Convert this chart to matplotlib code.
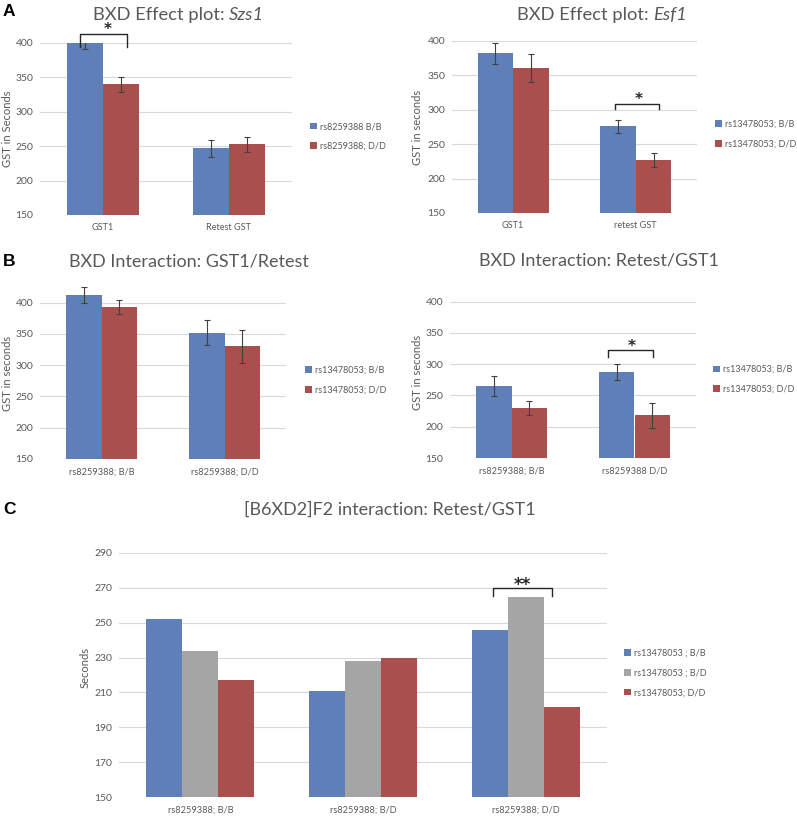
import matplotlib
matplotlib.use("Agg")
import matplotlib.pyplot as plt
import numpy as np

plt.rcParams['font.family'] = ['Lato', 'DejaVu Sans']

# ---- data ----
a1_cats = ['GST1', 'Retest GST']
a1_bb = [400, 247]
a1_bb_err = [9, 12]
a1_dd = [340, 253]
a1_dd_err = [11, 11]

a2_cats = ['GST1', 'retest GST']
a2_bb = [382, 276]
a2_bb_err = [15, 9]
a2_dd = [361, 227]
a2_dd_err = [20, 10]

b1_cats = ['rs8259388; B/B', 'rs8259388; D/D']
b1_bb = [412, 352]
b1_bb_err = [13, 20]
b1_dd = [393, 330]
b1_dd_err = [11, 26]

b2_cats = ['rs8259388; B/B', 'rs8259388 D/D']
b2_bb = [265, 288]
b2_bb_err = [16, 13]
b2_dd = [230, 218]
b2_dd_err = [11, 20]

c_cats = ['rs8259388; B/B', 'rs8259388; B/D', 'rs8259388; D/D']
c_bb = [252, 211, 245.5]
c_bd = [233.5, 228, 264.5]
c_dd = [217, 230, 201.5]

BLUE = '#5F7FB9'
RED = '#A94F4E'
GRAY = '#A5A5A5'
TXT = '#595959'
GRID = '#D9D9D9'

W, H = 797, 817
fig = plt.figure(figsize=(W / 100, H / 100), dpi=100)
renderer = fig.canvas.get_renderer()


def px_axes(x0, x1, ytop, ybot):
    return fig.add_axes([x0 / W, 1 - ybot / H, (x1 - x0) / W, (ybot - ytop) / H])


def bars(ax, cats, series, colors, labels, errs, width, ylim, yticks):
    n = len(series)
    x = np.arange(len(cats))
    for i, (vals, col, lab) in enumerate(zip(series, colors, labels)):
        pos = x + (i - (n - 1) / 2) * width
        ax.bar(pos, vals, width=width, color=col, label=lab, zorder=2)
        if errs is not None:
            ax.errorbar(pos, vals, yerr=errs[i], fmt='none', ecolor='#404040',
                        elinewidth=0.8, capsize=2.2, capthick=0.8, zorder=3)
    ax.set_xlim(-0.5, len(cats) - 0.5)
    ax.set_ylim(*ylim)
    ax.set_yticks(yticks)
    ax.set_xticks(x)
    ax.set_xticklabels(cats)
    for s in ax.spines.values():
        s.set_visible(False)
    ax.grid(axis='y', color=GRID, linewidth=0.8, zorder=0)
    ax.set_axisbelow(True)
    ax.tick_params(length=0, labelsize=7.5, labelcolor=TXT, pad=5)
    ax.tick_params(axis='x', labelsize=6.6, pad=6)


def legend(ax, x, y):
    ax.legend(loc='center left', bbox_to_anchor=(x / W, 1 - y / H),
              bbox_transform=fig.transFigure, frameon=False, fontsize=6.5,
              handlelength=0.75, handleheight=0.75, handletextpad=0.35,
              labelspacing=1.2, borderpad=0, borderaxespad=0, labelcolor=TXT)


def bracket(ax, x0, x1, ytop, ybot, star, sx, sy, size=11):
    ax.plot([x0, x0, x1, x1], [ybot, ytop, ytop, ybot], color='#262626', lw=1.0,
            clip_on=False, zorder=5)
    ax.text(sx, sy, star, ha='center', va='center', fontsize=size,
            fontweight='bold', color='#262626', clip_on=False,
            family='DejaVu Sans')


def ftext(x, y, s, **kw):
    fig.text(x / W, 1 - y / H, s, ha='center', va='center', **kw)


def mixed_title(xc, y, plain, ital, size):
    # plain part followed by an italic gene name, centred as a whole
    t1 = fig.text(0, 1 - y / H, plain, ha='left', va='center', fontsize=size, color=TXT)
    t2 = fig.text(0, 1 - y / H, ital, ha='left', va='center', fontsize=size,
                  color=TXT, style='italic')
    w1 = t1.get_window_extent(renderer).width
    w2 = t2.get_window_extent(renderer).width
    sp = fig.text(0, 0, 'a a', fontsize=size).get_window_extent(renderer).width
    sp2 = fig.text(0, 0, 'aa', fontsize=size).get_window_extent(renderer).width
    for t in fig.texts[-2:]:
        t.remove()
    gap = sp - sp2
    start = xc - (w1 + gap + w2) / 2
    t1.set_x(start / W)
    t2.set_x((start + w1 + gap) / W)


# ---- panel A left ----
ax1 = px_axes(40, 292, 43, 215)
bars(ax1, a1_cats, [a1_bb, a1_dd], [BLUE, RED], ['rs8259388 B/B', 'rs8259388; D/D'],
     [a1_bb_err, a1_dd_err], 0.285, (150, 400), [150, 200, 250, 300, 350, 400])
bracket(ax1, -0.18, 0.19, 413, 394, '*', 0.04, 419)
legend(ax1, 310, 136.5)

# ---- panel A right ----
ax2 = px_axes(452, 697, 41, 213)
bars(ax2, a2_cats, [a2_bb, a2_dd], [BLUE, RED], ['rs13478053; B/B', 'rs13478053; D/D'],
     [a2_bb_err, a2_dd_err], 0.29, (150, 400), [150, 200, 250, 300, 350, 400])
bracket(ax2, 0.83, 1.19, 308.4, 301, '*', 1.02, 315)
legend(ax2, 715, 134)

# ---- panel B left ----
ax3 = px_axes(40, 286, 287, 459)
bars(ax3, b1_cats, [b1_bb, b1_dd], [BLUE, RED], ['rs13478053; B/B', 'rs13478053; D/D'],
     [b1_bb_err, b1_dd_err], 0.285, (150, 425), [150, 200, 250, 300, 350, 400])
legend(ax3, 305, 380)

# ---- panel B right ----
ax4 = px_axes(450, 696, 286, 458)
bars(ax4, b2_cats, [b2_bb, b2_dd], [BLUE, RED], ['rs13478053; B/B', 'rs13478053; D/D'],
     [b2_bb_err, b2_dd_err], 0.285, (150, 425), [150, 200, 250, 300, 350, 400])
bracket(ax4, 0.785, 1.15, 322.7, 311.5, '*', 0.98, 328)
legend(ax4, 713, 379.5)

# ---- panel C ----
ax5 = px_axes(119, 607, 552.7, 797.3)
bars(ax5, c_cats, [c_bb, c_bd, c_dd], [BLUE, GRAY, RED],
     ['rs13478053 ; B/B', 'rs13478053 ; B/D', 'rs13478053; D/D'],
     None, 0.221, (150, 290), [150, 170, 190, 210, 230, 250, 270, 290])
bracket(ax5, 1.8, 2.16, 269.8, 265.2, '**', 1.98, 271.3, size=12)
legend(ax5, 624, 673)

# ---- titles, axis labels, panel letters ----
mixed_title(178.5, 15, 'BXD Effect plot:', 'Szs1', 13.2)
mixed_title(602, 15, 'BXD Effect plot:', 'Esf1', 13.2)
ftext(189, 261.5, 'BXD Interaction: GST1/Retest', fontsize=13, color=TXT)
ftext(598.5, 260.5, 'BXD Interaction: Retest/GST1', fontsize=13, color=TXT)
ftext(389.5, 510, '[B6XD2]F2 interaction: Retest/GST1', fontsize=13, color=TXT)

ftext(8, 129, 'GST in Seconds', fontsize=8, color=TXT, rotation=90)
ftext(417, 127, 'GST in seconds', fontsize=8, color=TXT, rotation=90)
ftext(8, 373, 'GST in seconds', fontsize=8, color=TXT, rotation=90)
ftext(417, 372, 'GST in seconds', fontsize=8, color=TXT, rotation=90)
ftext(85, 667, 'Seconds', fontsize=8, color=TXT, rotation=90)

for lab, y in [('A', 11), ('B', 261), ('C', 510)]:
    fig.text(3 / W, 1 - y / H, lab, ha='left', va='center', fontsize=12.5,
             fontweight='bold', family='Liberation Sans', color='black')

fig.savefig('out.png', dpi=100)
